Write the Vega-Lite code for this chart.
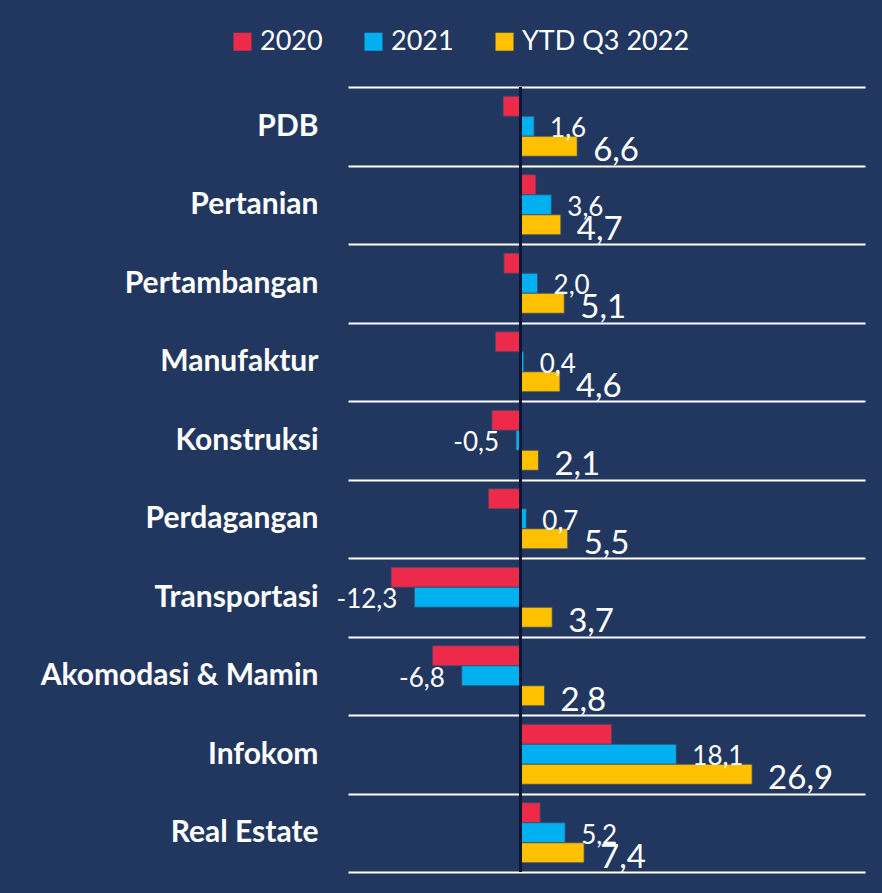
{
  "$schema": "https://vega.github.io/schema/vega-lite/v6.json",
  "autosize": "none",
  "width": 517,
  "height": 785,
  "padding": {"left": 348, "top": 87, "right": 17, "bottom": 21},
  "background": "#21375F",
  "config": {
    "view": {"stroke": null},
    "font": "Lato",
    "locale": {
      "number": {"decimal": ",", "thousands": ".", "grouping": [3], "currency": ["Rp", ""], "minus": "-"}
    }
  },
  "data": {
    "values": [
      {"sektor": "PDB", "tahun": "2020", "nilai": -2.0},
      {"sektor": "PDB", "tahun": "2021", "nilai": 1.6},
      {"sektor": "PDB", "tahun": "YTD Q3 2022", "nilai": 6.6},
      {"sektor": "Pertanian", "tahun": "2020", "nilai": 1.8},
      {"sektor": "Pertanian", "tahun": "2021", "nilai": 3.6},
      {"sektor": "Pertanian", "tahun": "YTD Q3 2022", "nilai": 4.7},
      {"sektor": "Pertambangan", "tahun": "2020", "nilai": -1.9},
      {"sektor": "Pertambangan", "tahun": "2021", "nilai": 2.0},
      {"sektor": "Pertambangan", "tahun": "YTD Q3 2022", "nilai": 5.1},
      {"sektor": "Manufaktur", "tahun": "2020", "nilai": -2.9},
      {"sektor": "Manufaktur", "tahun": "2021", "nilai": 0.4},
      {"sektor": "Manufaktur", "tahun": "YTD Q3 2022", "nilai": 4.6},
      {"sektor": "Konstruksi", "tahun": "2020", "nilai": -3.3},
      {"sektor": "Konstruksi", "tahun": "2021", "nilai": -0.5},
      {"sektor": "Konstruksi", "tahun": "YTD Q3 2022", "nilai": 2.1},
      {"sektor": "Perdagangan", "tahun": "2020", "nilai": -3.7},
      {"sektor": "Perdagangan", "tahun": "2021", "nilai": 0.7},
      {"sektor": "Perdagangan", "tahun": "YTD Q3 2022", "nilai": 5.5},
      {"sektor": "Transportasi", "tahun": "2020", "nilai": -15.0},
      {"sektor": "Transportasi", "tahun": "2021", "nilai": -12.3},
      {"sektor": "Transportasi", "tahun": "YTD Q3 2022", "nilai": 3.7},
      {"sektor": "Akomodasi & Mamin", "tahun": "2020", "nilai": -10.2},
      {"sektor": "Akomodasi & Mamin", "tahun": "2021", "nilai": -6.8},
      {"sektor": "Akomodasi & Mamin", "tahun": "YTD Q3 2022", "nilai": 2.8},
      {"sektor": "Infokom", "tahun": "2020", "nilai": 10.6},
      {"sektor": "Infokom", "tahun": "2021", "nilai": 18.1},
      {"sektor": "Infokom", "tahun": "YTD Q3 2022", "nilai": 26.9},
      {"sektor": "Real Estate", "tahun": "2020", "nilai": 2.3},
      {"sektor": "Real Estate", "tahun": "2021", "nilai": 5.2},
      {"sektor": "Real Estate", "tahun": "YTD Q3 2022", "nilai": 7.4}
    ]
  },
  "encoding": {
    "y": {
      "field": "sektor",
      "type": "nominal",
      "sort": null,
      "scale": {"paddingInner": 0, "paddingOuter": 0},
      "axis": {
        "title": null,
        "ticks": false,
        "tickSize": 0,
        "domain": false,
        "tickBand": "extent",
        "grid": true,
        "gridColor": "#FFFFFF",
        "gridWidth": 2,
        "labelPadding": 30,
        "labelFont": "Lato",
        "labelFontWeight": "bold",
        "labelFontSize": 30,
        "labelColor": "#FFFFFF",
        "labelLimit": 400
      }
    },
    "yOffset": {
      "field": "tahun",
      "type": "nominal",
      "sort": ["2020", "2021", "YTD Q3 2022"],
      "scale": {"paddingInner": 0, "paddingOuter": 0.4625}
    },
    "x": {
      "field": "nilai",
      "type": "quantitative",
      "scale": {"domain": [-20, 40], "nice": false, "zero": false},
      "axis": null
    }
  },
  "layer": [
    {
      "mark": {"type": "bar", "stroke": "#3A4A6A", "strokeWidth": 0.8},
      "encoding": {
        "color": {
          "field": "tahun",
          "type": "nominal",
          "sort": ["2020", "2021", "YTD Q3 2022"],
          "scale": {"domain": ["2020", "2021", "YTD Q3 2022"], "range": ["#EE2A4A", "#00B0F0", "#FFC000"]},
          "legend": {
            "title": null,
            "orient": "none",
            "direction": "horizontal",
            "legendX": -119,
            "legendY": -59,
            "padding": 0,
            "symbolType": "square",
            "symbolSize": 324,
            "symbolStrokeWidth": 0,
            "symbolOpacity": 1,
            "labelFont": "Lato",
            "labelFontSize": 27,
            "labelColor": "#FFFFFF",
            "labelLimit": 400,
            "labelOffset": 4,
            "columnPadding": 37
          }
        }
      }
    },
    {
      "mark": {"type": "rule", "color": "#0C1733", "strokeWidth": 2},
      "encoding": {"x": {"datum": 0}, "y": null, "yOffset": null}
    },
    {
      "transform": [{"filter": "datum.tahun === '2021' && datum.nilai >= 0"}],
      "mark": {"type": "text", "align": "left", "baseline": "middle", "dx": 16, "dy": 3, "color": "#FFFFFF", "font": "Lato", "fontSize": 26},
      "encoding": {"text": {"field": "nilai", "type": "quantitative", "format": ".1f"}}
    },
    {
      "transform": [{"filter": "datum.tahun === '2021' && datum.nilai < 0"}],
      "mark": {"type": "text", "align": "right", "baseline": "middle", "dx": -17, "dy": 3, "color": "#FFFFFF", "font": "Lato", "fontSize": 26},
      "encoding": {"text": {"field": "nilai", "type": "quantitative", "format": ".1f"}}
    },
    {
      "transform": [{"filter": "datum.tahun === 'YTD Q3 2022'"}],
      "mark": {"type": "text", "align": "left", "baseline": "middle", "dx": 16, "dy": 5, "color": "#FFFFFF", "font": "Lato", "fontSize": 33},
      "encoding": {"text": {"field": "nilai", "type": "quantitative", "format": ".1f"}}
    }
  ]
}
